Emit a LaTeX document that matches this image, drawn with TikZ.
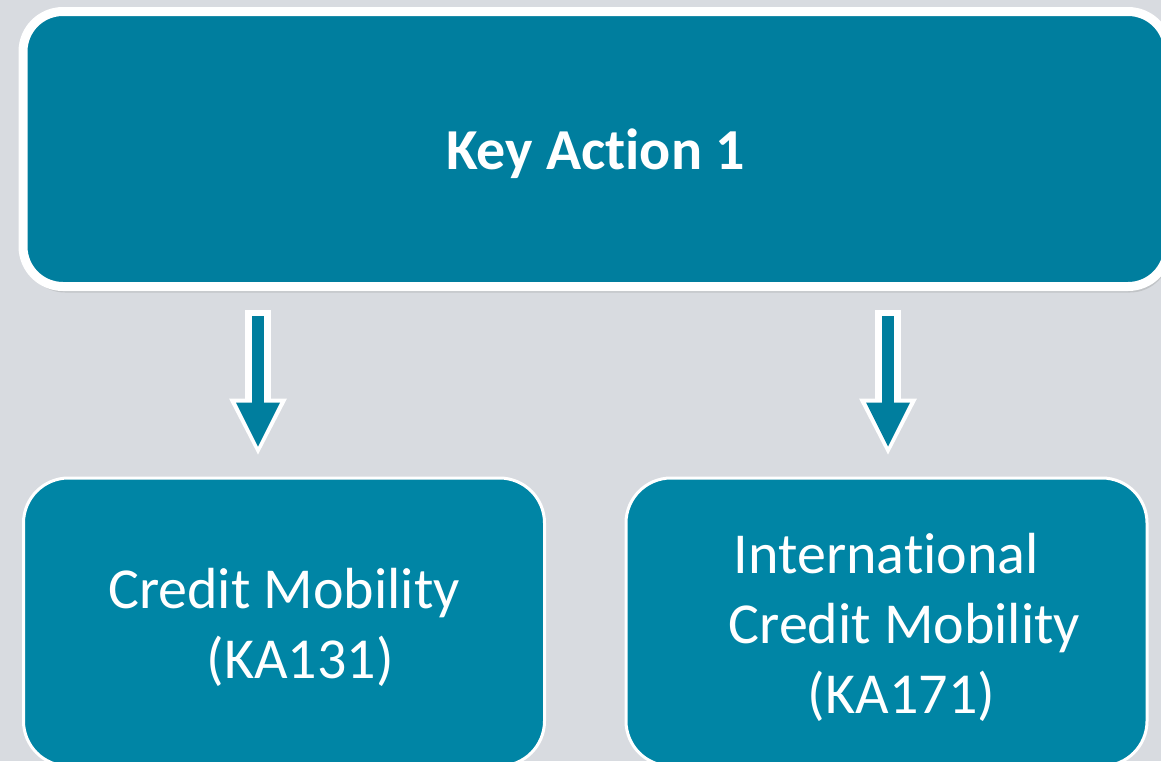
\documentclass[tikz,border=0pt]{standalone}
\usepackage{fontspec}
\setmainfont{Carlito}[Ligatures=CommonOff]
\usepackage{tikz}
\usetikzlibrary{
  arrows.meta,
  calc,
  positioning,
  shadows,
}
\definecolor{kateal}{RGB}{0, 126, 158}
\definecolor{kabox}{RGB}{0, 133, 165}
\definecolor{kagrey}{RGB}{216, 219, 224}
\tikzstyle{mainbox} = [
  rectangle,
  rounded corners=40pt,
  draw=white,
  line width=9pt,
  fill=kateal,
  text=white,
  font=\fontsize{58}{70}\selectfont\bfseries,
  drop shadow={shadow xshift=2pt, shadow yshift=-6pt, opacity=0.25},
]
\tikzstyle{subbox} = [
  rectangle,
  rounded corners=45pt,
  draw=white,
  line width=3pt,
  fill=kabox,
  text=white,
  align=center,
  font=\fontsize{58}{70}\selectfont,
]
\tikzstyle{arrow} = [
  -{Triangle[width=44pt,length=44pt,line width=0pt]},
  line width=12pt,
  kateal,
  preaction={
    draw=white,
    line width=26pt,
    shorten <=-6pt,
    shorten >=-8pt,
    -{Triangle[width=58pt,length=56pt,line width=0pt]},
  },
]

\begin{document}
\begin{tikzpicture}[x=1pt,y=-1pt]
  \useasboundingbox[fill=kagrey] (0,0) rectangle (1161,761);
  \clip (0,0) rectangle (1161,761);

  \node[mainbox,minimum width=1145pt,minimum height=275pt] (ka1) at (595.5,149) {\rule{0pt}{50pt}Key Action 1};
  \node[subbox,minimum width=521pt,minimum height=288pt] (cm) at (284,622) {\rule{0pt}{51pt}Credit Mobility\\\hspace*{32pt}(KA131)};
  \node[subbox,minimum width=521pt,minimum height=288pt] (icm) at (886.5,622) {\rule{0pt}{51pt}International\\\hspace*{36pt}Credit Mobility\\\hspace*{30pt}(KA171)};

  % arrows from the key action down to each mobility box
  \draw[arrow] ($(ka1.south -| cm.north)+(-26,25)$) -- ($(cm.north)+(-26,-30)$);
  \draw[arrow] ($(ka1.south -| icm.north)+(1.5,25)$) -- ($(icm.north)+(1.5,-30)$);
\end{tikzpicture}
\end{document}
